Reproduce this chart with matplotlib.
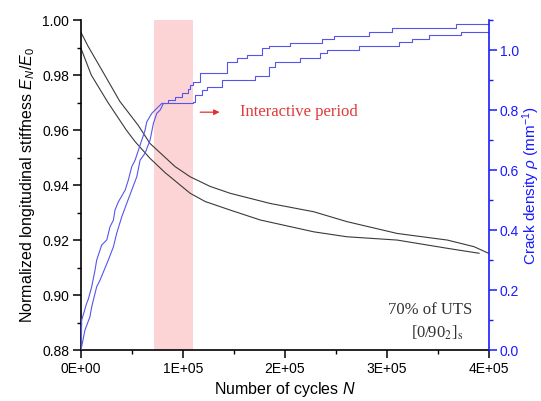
import matplotlib
matplotlib.use("Agg")
import matplotlib.pyplot as plt
from matplotlib.ticker import MultipleLocator, FuncFormatter

plt.rcParams['font.family'] = ['Liberation Sans', 'DejaVu Sans']
plt.rcParams['mathtext.fontset'] = 'custom'
plt.rcParams['mathtext.rm'] = 'Liberation Sans'
plt.rcParams['mathtext.it'] = 'Liberation Sans:italic'

# stiffness E_N/E_0, two specimens
n_stiff_a = [0, 6900, 23300, 38000, 56000, 67800, 92400, 107200, 126800, 146500,
             185800, 228400, 261000, 310400, 359600, 385700, 400000]
stiff_a = [0.9955, 0.9905, 0.9800, 0.9705, 0.9618, 0.9551, 0.9467, 0.9430, 0.9395, 0.9370,
           0.9333, 0.9303, 0.9267, 0.9224, 0.9200, 0.9176, 0.9152]

n_stiff_b = [0, 10100, 26500, 44500, 53100, 67800, 82600, 107200, 122000, 146500,
             176000, 228400, 261000, 310400, 359600, 390700]
stiff_b = [0.9897, 0.9800, 0.9700, 0.9600, 0.9558, 0.9497, 0.9445, 0.9370, 0.9340, 0.9309,
           0.9273, 0.9230, 0.9212, 0.9200, 0.9170, 0.9152]

# crack density (mm^-1): fast rise (jagged line), then discrete steps
n_rise_a = [0, 3900, 8800, 10500, 15400, 18700, 26800, 31800, 35100, 40000, 44900, 49800,
            54800, 58000, 62900, 67800, 71100, 74400, 77700, 80900]
rise_a = [0.0, 0.067, 0.111, 0.144, 0.211, 0.233, 0.300, 0.344, 0.390, 0.444, 0.489, 0.533,
          0.578, 0.633, 0.656, 0.700, 0.756, 0.789, 0.800, 0.822]
n_step_a = [80900, 85800, 92400, 99000, 105500, 107200, 110400, 117000, 143300, 153100,
            162900, 177700, 184200, 205500, 236600, 248100, 282500, 305500, 367800, 400000]
step_a = [0.822, 0.833, 0.844, 0.858, 0.869, 0.883, 0.894, 0.922, 0.961, 0.972,
          0.985, 1.006, 1.013, 1.022, 1.036, 1.048, 1.061, 1.074, 1.087, 1.087]

n_rise_b = [0, 300, 700, 5600, 7200, 10500, 13800, 15400, 20300, 25300, 28500, 31800, 33400,
            36700, 43300, 46500, 49800, 53100, 58000, 62900, 64600, 69500, 72700, 79300]
rise_b = [0.0, 0.023, 0.100, 0.156, 0.170, 0.211, 0.267, 0.300, 0.350, 0.367, 0.411, 0.433, 0.467,
          0.494, 0.533, 0.567, 0.611, 0.633, 0.683, 0.733, 0.761, 0.789, 0.800, 0.822]
n_step_b = [79300, 110400, 112100, 118700, 123600, 138300, 171100, 184200, 190800, 215300,
            235000, 241600, 272700, 312000, 325200, 341500, 372700, 400000]
step_b = [0.822, 0.828, 0.850, 0.867, 0.878, 0.900, 0.913, 0.944, 0.961, 0.974,
          0.989, 1.000, 1.013, 1.026, 1.037, 1.050, 1.061, 1.061]

band = (72000, 110000)
blue = '#1a1aff'
line_blue = '#5555ee'

fig = plt.figure(figsize=(5.41, 4.01), dpi=100)
ax = fig.add_axes([0.1497, 0.127, 0.7533, 0.823])
ax2 = ax.twinx()

ax.axvspan(band[0], band[1], color='#fcd4d6', lw=0, zorder=0)
ax.plot(n_stiff_a, stiff_a, color='#3a3a3a', lw=0.8)
ax.plot(n_stiff_b, stiff_b, color='#3a3a3a', lw=0.8)
ax2.plot(n_rise_a, rise_a, color=line_blue, lw=0.8)
ax2.plot(n_step_a, step_a, color=line_blue, lw=0.8, drawstyle='steps-post')
ax2.plot(n_rise_b, rise_b, color=line_blue, lw=0.8)
ax2.plot(n_step_b, step_b, color=line_blue, lw=0.8, drawstyle='steps-post')

ax.set_xlim(0, 400000)
ax.set_ylim(0.88, 1.00)
ax2.set_ylim(0, 1.1)

ax.xaxis.set_major_locator(MultipleLocator(100000))
ax.xaxis.set_minor_locator(MultipleLocator(50000))
ax.xaxis.set_major_formatter(FuncFormatter(lambda v, p: '{:.0E}'.format(v)))
ax.yaxis.set_major_locator(MultipleLocator(0.02))
ax.yaxis.set_minor_locator(MultipleLocator(0.01))
ax.yaxis.set_major_formatter(FuncFormatter(lambda v, p: '%.2f' % v))
ax2.yaxis.set_major_locator(MultipleLocator(0.2))
ax2.yaxis.set_minor_locator(MultipleLocator(0.1))
ax2.yaxis.set_major_formatter(FuncFormatter(lambda v, p: '%.1f' % v))

for a in (ax, ax2):
    a.spines['top'].set_visible(False)
ax.spines['right'].set_visible(False)
ax2.spines['left'].set_visible(False)
ax2.spines['bottom'].set_visible(False)
ax.spines['left'].set_linewidth(1.2)
ax.spines['bottom'].set_linewidth(1.2)
ax2.spines['right'].set_linewidth(1.2)
ax2.spines['right'].set_color(blue)

ax.tick_params(which='major', direction='out', length=6, width=1.1, labelsize=10, pad=2.5)
ax.tick_params(which='minor', direction='out', length=3, width=1.0)
ax2.tick_params(which='major', direction='out', length=6, width=1.1, labelsize=10,
                colors=blue, pad=2)
ax2.tick_params(which='minor', direction='out', length=3, width=1.0, colors=blue)

ax.set_xlabel('Number of cycles $N$', fontsize=11.5, labelpad=3)
ax.set_ylabel('Normalized longitudinal stiffness $E_N/E_0$', fontsize=11.5, labelpad=4)
ax2.set_ylabel(r'Crack density $\rho$ (mm$^{-1}$)', fontsize=11, color=blue, labelpad=1)

ax.annotate('', xy=(136000, 0.9665), xytext=(117000, 0.9665),
            arrowprops=dict(arrowstyle='-|>', color='#e03030', lw=0.9,
                            mutation_scale=8, shrinkA=0, shrinkB=0))
ax.text(156300, 0.9665, 'Interactive period', color='#e03a3a', fontsize=12,
        family='Liberation Serif', va='center', ha='left')
ax.text(343000, 0.8945, '70% of UTS', color='#333333', fontsize=12,
        family='Liberation Serif', va='center', ha='center')
ax.text(350000, 0.8862, r'[0/90$_2$]$_\mathrm{s}$', color='#333333', fontsize=12,
        family='Liberation Serif', va='center', ha='center', math_fontfamily='stix')

fig.savefig('out.png', dpi=100)
